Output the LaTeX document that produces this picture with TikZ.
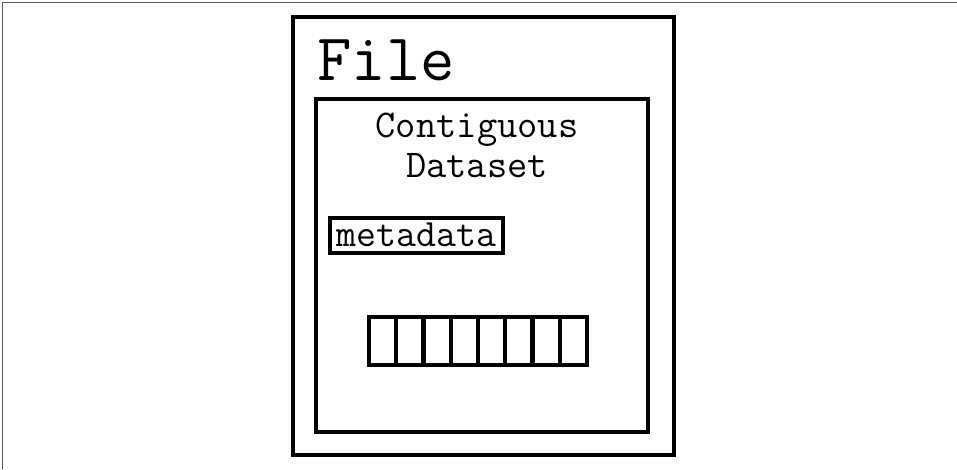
\documentclass[tikz,border=0pt]{standalone}
\usepackage{fontspec}
\usepackage{tikz}
\usetikzlibrary{positioning}
\tikzset{
  box/.style={draw, line width=3pt, rectangle, inner sep=0pt},
  cell/.style={draw, line width=3pt, rectangle, inner sep=0pt, minimum width=20.45pt, minimum height=36pt},
  label/.style={inner sep=0pt, font=\ttfamily}
}

\begin{document}
\begin{tikzpicture}[x=0.75pt, y=-0.75pt]
			\useasboundingbox (0,0) rectangle (957,469);
			\draw[gray!70!black, line width=1.2pt] (2.5,469) -- (2.5,2.5) -- (957,2.5);
			
			\node[box, minimum width=285.75pt, minimum height=328.5pt] (file) at (483.5,236) {};
			\node[label, anchor=base, font=\ttfamily\fontsize{50}{56}\selectfont] (filetitle) at (386,80) {File};
			
			\node[box, minimum width=249pt, minimum height=249.75pt] (dataset) at (482,265.5) {};
			\node[label, align=center, anchor=base, font=\ttfamily\fontsize{29.5}{30}\selectfont] (dstitle) at (477,177) {Contiguous\\Dataset};
			
			\node[box, line width=2.5pt, minimum width=129.75pt, minimum height=26.25pt] (meta) at (416.5,235.5) {};
			\node[label, font=\ttfamily\fontsize{29}{30}\selectfont, anchor=base] (metatext) at (416.5,246) {metadata};
			
			\foreach \i in {0,...,7}
				\node[cell] (c\i) at (369+13.625+\i*27.25,341) {};
\end{tikzpicture}
\end{document}
